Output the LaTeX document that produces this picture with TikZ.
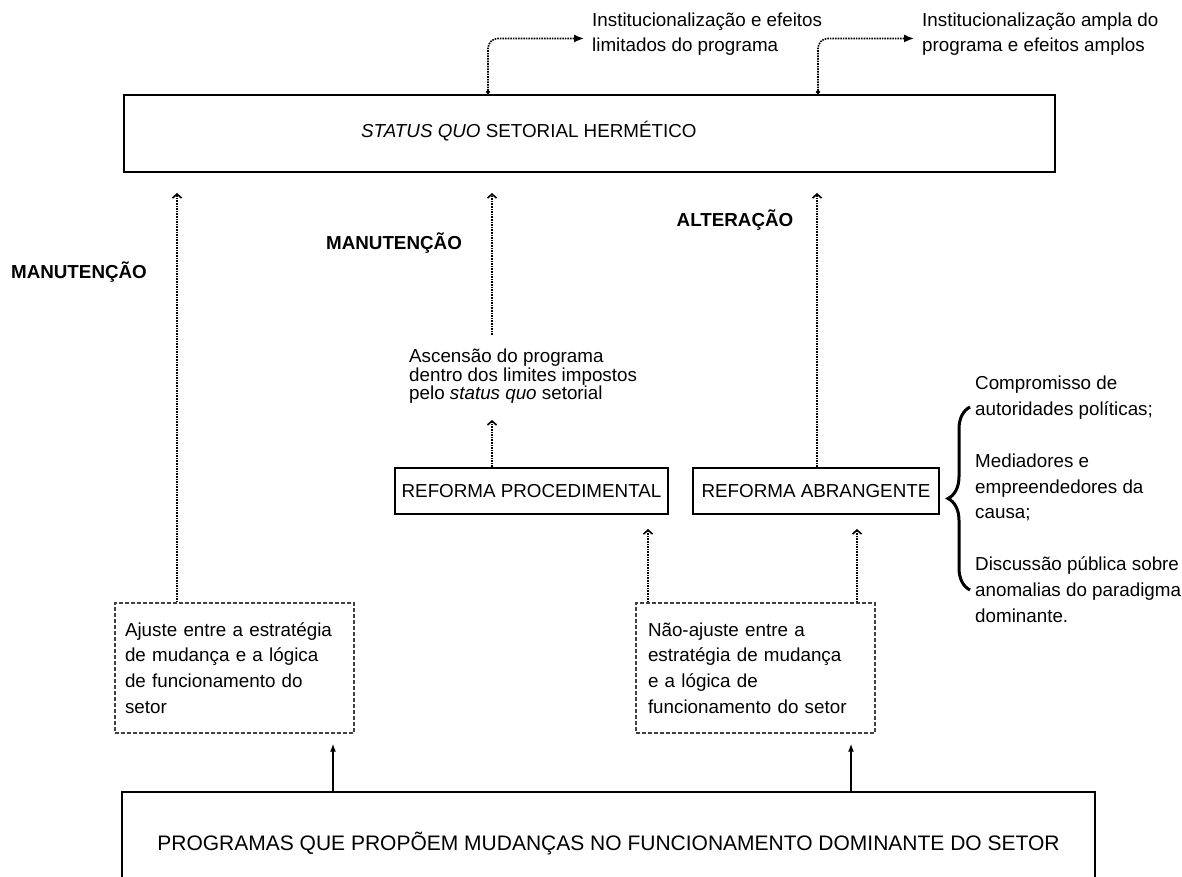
\documentclass[tikz,border=0pt]{standalone}
\usepackage{fontspec}
\setmainfont{Liberation Sans}
\usetikzlibrary{arrows.meta,decorations.pathreplacing}

\newcommand{\txtsize}{\fontsize{18.8pt}{25.8pt}\selectfont}

\tikzset{
  solidbox/.style={draw, line width=2pt, inner sep=0pt, font=\txtsize},
  dashbox/.style={draw=black!75, line width=1.3pt, dash pattern=on 4pt off 2pt,
    align=left, font=\txtsize, minimum width=239pt, minimum height=130pt},
  plain/.style={inner sep=0pt, align=left, font=\txtsize},
  boldlabel/.style={inner sep=0pt, font=\txtsize\bfseries},
  dotarrow/.style={line width=1.6pt, densely dotted, -{Straight Barb[length=4pt,width=9pt]}},
  toparrow/.style={line width=1.6pt, densely dotted, rounded corners=10pt,
    {Circle[length=4pt]}-{Latex[length=10pt,width=8pt]}},
  solidarrow/.style={line width=1.8pt, -{Latex[length=8pt,width=6pt]}},
  bracestyle/.style={line width=3pt, decorate, decoration={brace, amplitude=22pt}},
}

\begin{document}
\begin{tikzpicture}[x=1pt, y=-1pt]
\useasboundingbox (0,0) rectangle (1182,877);

% status quo box
\node[solidbox, minimum width=931pt, minimum height=77pt] (status) at (589.5,133.5) {};
\node[plain, anchor=west] (statustxt) at (361,131) {\textit{STATUS QUO} SETORIAL HERMÉTICO};

% effects on top
\node[plain, anchor=north west, font=\fontsize{18.8pt}{25pt}\selectfont] (inst1) at (592,13)
  {Institucionalização e efeitos\\limitados do programa};
\node[plain, anchor=north west, font=\fontsize{18.8pt}{25pt}\selectfont] (inst2) at (922,13)
  {Institucionalização ampla do\\programa e efeitos amplos};

% reforms
\node[solidbox, minimum width=273pt, minimum height=46pt] (proc) at (531.5,491) {REFORMA PROCEDIMENTAL};
\node[solidbox, minimum width=246pt, minimum height=46pt] (abr) at (816,491) {REFORMA ABRANGENTE};

\node[plain, anchor=north west, font=\fontsize{18.8pt}{18.5pt}\selectfont] (ascensao) at (409,349)
  {Ascensão do programa\\dentro dos limites impostos\\pelo \textit{status quo} setorial};

% fit / no fit
\node[dashbox, text width=219pt, inner xsep=10pt] (ajuste) at (234.5,668)
  {Ajuste entre a estratégia\\de mudança e a lógica\\de funcionamento do\\setor};
\node[dashbox, text width=215pt, inner xsep=12pt] (naoajuste) at (755.5,668)
  {Não-ajuste entre a\\estratégia de mudança\\e a lógica de\\funcionamento do setor};

% programmes
\node[solidbox, minimum width=973pt, minimum height=102pt, font=\fontsize{21pt}{26pt}\selectfont]
  (programas) at (608.5,843)
  {PROGRAMAS QUE PROPÕEM MUDANÇAS NO FUNCIONAMENTO DOMINANTE DO SETOR};

% labels
\node[boldlabel] (manut1) at (79,272) {MANUTENÇÃO};
\node[boldlabel] (manut2) at (394,243) {MANUTENÇÃO};
\node[boldlabel] (alter) at (735,220) {ALTERAÇÃO};

% conditions
\node[plain, anchor=north west] (fatores) at (975,376)
  {Compromisso de\\autoridades políticas;\\[25.8pt]Mediadores e\\empreendedores da\\causa;\\[25.8pt]Discussão pública sobre\\anomalias do paradigma\\dominante.};
\coordinate (brtop) at (970,407);
\coordinate (brbot) at (970,590);
\draw[bracestyle] (brbot) -- (brtop);

% connector positions
\coordinate (k1) at (488,0);
\coordinate (k2) at (818,0);
\coordinate (c1) at (177,0);
\coordinate (c2) at (492,0);
\coordinate (c3) at (817,0);
\coordinate (c4) at (648,0);
\coordinate (c5) at (857,0);
\coordinate (c6) at (333,0);
\coordinate (c7) at (851,0);
\coordinate (m1) at (492,335);

\draw[toparrow, shorten >=8pt] (k1 |- status.north) |- ([yshift=-4pt]inst1.west);
\draw[toparrow, shorten >=8pt] (k2 |- status.north) |- ([yshift=-4pt]inst2.west);

\draw[dotarrow, shorten >=20pt] (c1 |- ajuste.north) -- (c1 |- status.south);
\draw[dotarrow, shorten >=20pt] (m1) -- (m1 |- status.south);
\draw[dotarrow, shorten >=20pt] (c3 |- abr.north) -- (c3 |- status.south);
\draw[dotarrow, shorten >=16pt] (c2 |- proc.north) -- (c2 |- ascensao.south);
\draw[dotarrow, shorten >=14pt] (c4 |- naoajuste.north) -- (c4 |- proc.south);
\draw[dotarrow, shorten >=14pt] (c5 |- naoajuste.north) -- (c5 |- abr.south);

\draw[solidarrow, shorten >=10pt] (c6 |- programas.north) -- (c6 |- ajuste.south);
\draw[solidarrow, shorten >=10pt] (c7 |- programas.north) -- (c7 |- naoajuste.south);
\end{tikzpicture}
\end{document}
